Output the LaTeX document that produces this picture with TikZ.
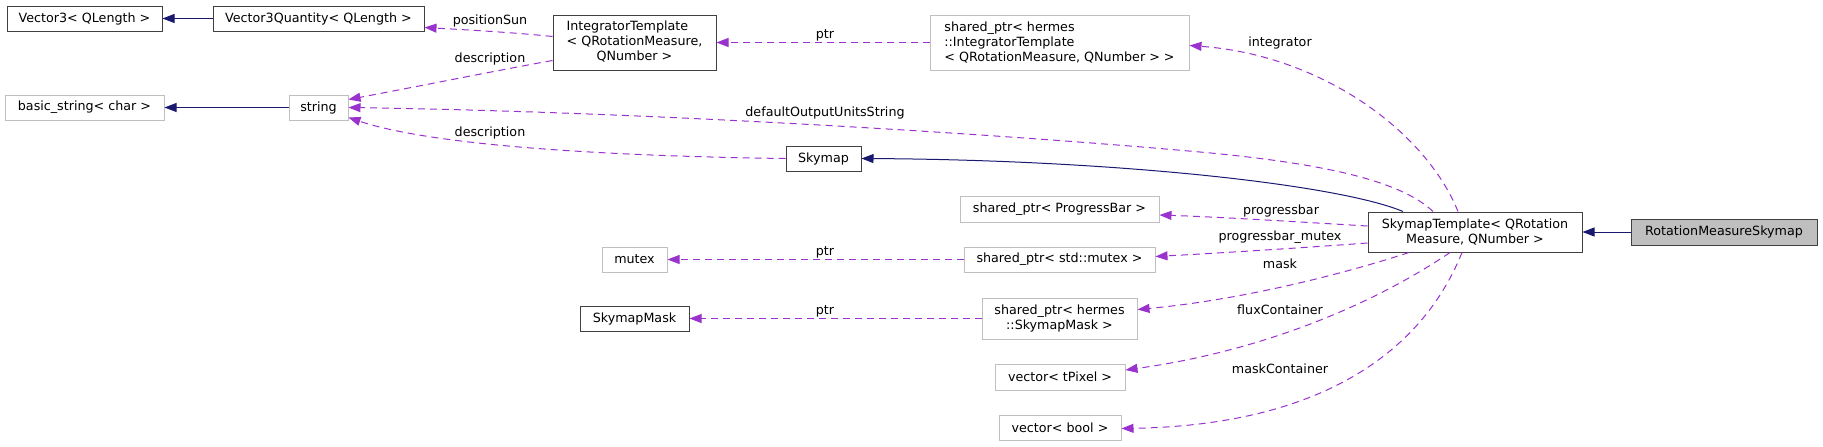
\documentclass[tikz,border=0pt]{standalone}
\usepackage{fontspec}
\setmainfont{DejaVu Sans}
\usepackage{tikz}
\usetikzlibrary{arrows.meta}
\usepackage{xcolor}
\definecolor{usepurple}{HTML}{9A32CD}
\definecolor{inhblue}{HTML}{191970}
\definecolor{boxdark}{HTML}{404040}
\definecolor{boxlight}{HTML}{BFBFBF}
\definecolor{curgray}{HTML}{BFBFBF}

\begin{document}
\begin{tikzpicture}[x=1pt, y=-1pt,
    every node/.style={font=\fontsize{12.7}{14.7}\selectfont, inner sep=0pt, text=black},
    docbox/.style={draw=boxdark, fill=white, line width=1pt, minimum height=25pt},
    extbox/.style={draw=boxlight, fill=white, line width=1pt, minimum height=25pt},
    curbox/.style={draw=boxdark, fill=curgray, line width=1pt, minimum height=26pt},
    uses/.style={draw=usepurple, line width=1pt, dash pattern=on 7pt off 5pt,
        -{Triangle[length=12pt, width=9pt, fill=usepurple]}},
    inherits/.style={draw=inhblue, line width=1pt,
        -{Triangle[length=12pt, width=9pt, fill=inhblue]}},
    lbl/.style={fill=none}]
    \useasboundingbox (0,0) rectangle (1823,447);

    % classes
    \node[docbox, minimum width=155pt] (vec3) at (84.5,18.5) {Vector3< QLength >};
    \node[docbox, minimum width=211pt] (vec3q) at (318.5,18.5) {Vector3Quantity< QLength >};
    \node[docbox, minimum width=163pt, minimum height=55pt] (integ) at (634.5,42.5)
        {\begin{tabular}{@{}l@{}}IntegratorTemplate\\< QRotationMeasure,\\\multicolumn{1}{@{}c@{}}{QNumber >}\end{tabular}};
    \node[extbox, minimum width=159pt] (bstr) at (84.5,107.5) {basic\_string< char >};
    \node[extbox, minimum width=59pt] (str) at (318.5,107.5) {string};
    \node[docbox, minimum width=75pt] (sky) at (823.5,158.5) {Skymap};
    \node[extbox, minimum width=259pt, minimum height=55pt, align=left] (spinteg) at (1059.5,42.5)
        {shared\_ptr< hermes\\::IntegratorTemplate\\< QRotationMeasure, QNumber > >};
    \node[extbox, minimum width=199pt, minimum height=26pt] (spbar) at (1059.5,209) {shared\_ptr< ProgressBar >};
    \node[docbox, minimum width=214pt, minimum height=40pt, align=center] (skytpl) at (1475,232)
        {SkymapTemplate< QRotation\\Measure, QNumber >};
    \node[curbox, minimum width=186pt] (rmsky) at (1724,232) {RotationMeasureSkymap};
    \node[extbox, minimum width=65pt] (mtx) at (634.5,259.5) {mutex};
    \node[extbox, minimum width=191pt] (spmtx) at (1059.5,259.5) {shared\_ptr< std::mutex >};
    \node[docbox, minimum width=109pt] (smask) at (634.5,318.5) {SkymapMask};
    \node[extbox, minimum width=155pt, minimum height=41pt, align=center] (spmask) at (1059.5,318.5)
        {shared\_ptr< hermes\\::SkymapMask >};
    \node[extbox, minimum width=130pt, minimum height=26pt] (vpix) at (1060,377) {vector< tPixel >};
    \node[extbox, minimum width=122pt] (vbool) at (1060,427.5) {vector< bool >};

    % inheritance
    \draw[inherits] (vec3q.west) -- (vec3.east);
    \draw[inherits] (str.west) -- (bstr.east);
    \draw[inherits] (rmsky.west) -- (skytpl.east);
    \draw[inherits] ([xshift=-72pt]skytpl.north) .. controls (1340,185) and (1120,160) .. (sky.east);

    % members
    \draw[uses] ([yshift=6pt]integ.west) .. controls (520,33) and (470,30) .. ([yshift=-9pt]vec3q.east);
    \draw[uses] ([yshift=-18pt]integ.west) .. controls (510,68) and (420,86) .. ([yshift=8pt]str.east);
    \draw[uses] ([xshift=-42pt]skytpl.north) .. controls (1400,180) and (1320,163) .. (1200,152)
        .. controls (1000,134) and (650,112) .. (str.east);
    \draw[uses] (sky.west) .. controls (600,156) and (430,145) .. ([yshift=-10pt]str.east);
    \draw[uses] (spinteg.west) -- (integ.east);
    \draw[uses] ([xshift=-17pt]skytpl.north) .. controls (1425,130) and (1320,55) .. ([yshift=-3pt]spinteg.east);
    \draw[uses] ([yshift=6pt]skytpl.west) .. controls (1300,222) and (1220,217) .. ([yshift=-6pt]spbar.east);
    \draw[uses] ([yshift=-11pt]skytpl.west) .. controls (1300,248) and (1220,253) .. ([yshift=3pt]spmtx.east);
    \draw[uses] (spmtx.west) -- (mtx.east);
    \draw[uses] ([xshift=-66pt]skytpl.south) .. controls (1340,275) and (1240,300) .. ([yshift=9pt]spmask.east);
    \draw[uses] (spmask.west) -- (smask.east);
    \draw[uses] ([xshift=-25pt]skytpl.south) .. controls (1380,300) and (1270,350) .. ([yshift=7pt]vpix.east);
    \draw[uses] ([xshift=-13pt]skytpl.south) .. controls (1425,345) and (1330,425) .. ([yshift=-1pt]vbool.east);

    % member names
    \node[lbl] (lpossun) at (490,21) {positionSun};
    \node[lbl] (ldescinteg) at (490,59) {description};
    \node[lbl] (ldescsky) at (490,133) {description};
    \node[lbl] (lunits) at (825,113) {defaultOutputUnitsString};
    \node[lbl] (lptrinteg) at (825,35) {ptr};
    \node[lbl] (lintegrator) at (1280,43) {integrator};
    \node[lbl] (lbar) at (1281,211) {progressbar};
    \node[lbl] (lbarmtx) at (1280,237) {progressbar\_mutex};
    \node[lbl] (lmask) at (1280,264) {mask};
    \node[lbl] (lflux) at (1280,310) {fluxContainer};
    \node[lbl] (lmaskc) at (1280,369) {maskContainer};
    \node[lbl] (lptrmtx) at (825,252) {ptr};
    \node[lbl] (lptrmask) at (825,311) {ptr};
\end{tikzpicture}
\end{document}
